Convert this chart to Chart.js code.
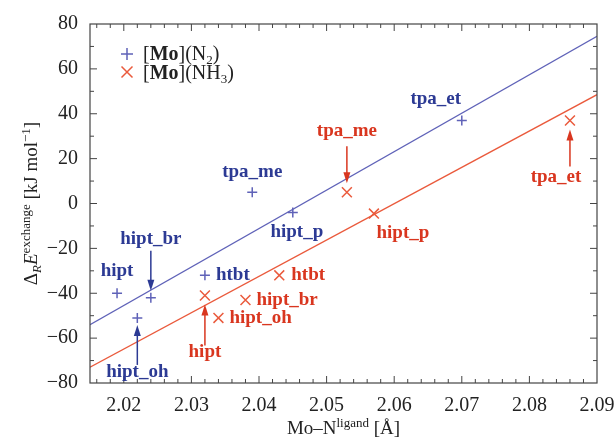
<!DOCTYPE html>
<html>
<head>
<meta charset="utf-8">
<script src="https://cdn.jsdelivr.net/npm/chart.js@4.4.0/dist/chart.umd.min.js"></script>
<style>
html, body { margin: 0; padding: 0; background: #fff; }
#wrap { width: 615px; height: 441px; }
</style>
</head>
<body>
<div id="wrap"><canvas id="chart"></canvas></div>
<script>
// ligand names, same order for both series
const ligands = ['hipt', 'hipt_br', 'hipt_oh', 'htbt', 'tpa_me', 'hipt_p', 'tpa_et'];
// Mo-N distance [A] and exchange energy [kJ/mol]
const n2Dist = [2.019, 2.024, 2.022, 2.032, 2.039, 2.045, 2.070];
const n2Energy = [-40, -42, -51, -32, 5, -4, 37];
const nh3Dist = [2.032, 2.038, 2.034, 2.043, 2.053, 2.057, 2.086];
const nh3Energy = [-41, -43, -51, -32, 5, -4.5, 37];
// fit lines, read at the two plot edges
const fitX = [2.015, 2.09];
const n2Fit = [-54, 74.5];
const nh3Fit = [-73, 48.5];
// axis ticks
const xTicks = [2.02, 2.03, 2.04, 2.05, 2.06, 2.07, 2.08, 2.09];
const yTicks = [-80, -60, -40, -20, 0, 20, 40, 60, 80];

const blue = '#5f62b8';
const blueText = '#2c3a94';
const red = '#ea5a3c';
const redText = '#d9361f';
const serif = "'Liberation Serif', 'Times New Roman', serif";

// where the names go, pixel offsets from the point (arrow = [from, to] in y)
const n2Place = {
  hipt:    { dx: 0,   dy: -22 },
  hipt_br: { dx: 0,   dy: -59, arrow: [-47, -7] },
  hipt_oh: { dx: 0,   dy: 54,  arrow: [47, 7] },
  htbt:    { dx: 11,  dy: 0,   align: 'left' },
  tpa_me:  { dx: 0,   dy: -20 },
  hipt_p:  { dx: 4,   dy: 20 },
  tpa_et:  { dx: -26, dy: -21 }
};
const nh3Place = {
  hipt:    { dx: 0,   dy: 57,  arrow: [50, 9] },
  hipt_br: { dx: 11,  dy: 0,   align: 'left' },
  hipt_oh: { dx: 11,  dy: 0,   align: 'left' },
  htbt:    { dx: 12,  dy: 0,   align: 'left' },
  tpa_me:  { dx: 0,   dy: -61, arrow: [-46, -9] },
  hipt_p:  { dx: 29,  dy: 19 },
  tpa_et:  { dx: -14, dy: 57,  arrow: [46, 9] }
};

function toPoints(xs, ys) {
  return xs.map((x, i) => ({ x: x, y: ys[i] }));
}

// draw a run of text pieces: [text, size, style, dy]
function drawRuns(ctx, runs, x, y, align) {
  let total = 0;
  runs.forEach(r => {
    ctx.font = (r[2] || '') + ' ' + r[1] + 'px ' + serif;
    r.w = ctx.measureText(r[0]).width;
    total += r.w;
  });
  let cx = align === 'center' ? x - total / 2 : x;
  ctx.textAlign = 'left';
  ctx.textBaseline = 'alphabetic';
  runs.forEach(r => {
    ctx.font = (r[2] || '') + ' ' + r[1] + 'px ' + serif;
    ctx.fillText(r[0], cx, y + (r[3] || 0));
    cx += r.w;
  });
}

function arrow(ctx, x, y0, y1, color) {
  const dir = y1 > y0 ? 1 : -1;
  ctx.strokeStyle = color;
  ctx.fillStyle = color;
  ctx.lineWidth = 1.5;
  ctx.beginPath();
  ctx.moveTo(x, y0);
  ctx.lineTo(x, y1 - dir * 8);
  ctx.stroke();
  ctx.beginPath();
  ctx.moveTo(x, y1);
  ctx.lineTo(x - 3.5, y1 - dir * 11);
  ctx.lineTo(x + 3.5, y1 - dir * 11);
  ctx.closePath();
  ctx.fill();
}

const decorations = {
  id: 'decorations',
  afterDraw(chart) {
    const ctx = chart.ctx;
    const a = chart.chartArea;
    const xs = chart.scales.x;
    const ys = chart.scales.y;
    ctx.save();

    // frame
    ctx.strokeStyle = '#444';
    ctx.lineWidth = 1.2;
    ctx.strokeRect(a.left, a.top, a.right - a.left, a.bottom - a.top);

    // inward ticks on all four sides
    ctx.lineWidth = 1;
    ctx.beginPath();
    for (let v = 2.016; v < 2.0895; v += 0.002) {
      const px = xs.getPixelForValue(v);
      const major = Math.abs(Math.round(v * 100) - v * 100) < 1e-6;
      const len = major ? 7 : 4;
      ctx.moveTo(px, a.bottom); ctx.lineTo(px, a.bottom - len);
      ctx.moveTo(px, a.top); ctx.lineTo(px, a.top + len);
    }
    for (let v = -70; v < 80; v += 10) {
      const py = ys.getPixelForValue(v);
      const len = v % 20 === 0 ? 7 : 4;
      ctx.moveTo(a.left, py); ctx.lineTo(a.left + len, py);
      ctx.moveTo(a.right, py); ctx.lineTo(a.right - len, py);
    }
    ctx.stroke();

    // point names and arrows
    const groups = [
      [n2Dist, n2Energy, n2Place, blueText],
      [nh3Dist, nh3Energy, nh3Place, redText]
    ];
    groups.forEach(g => {
      ligands.forEach((name, i) => {
        const p = g[2][name];
        const px = xs.getPixelForValue(g[0][i]);
        const py = ys.getPixelForValue(g[1][i]);
        ctx.fillStyle = g[3];
        ctx.font = 'bold 19px ' + serif;
        ctx.textAlign = p.align || 'center';
        ctx.textBaseline = 'middle';
        ctx.fillText(name, px + p.dx, py + p.dy);
        if (p.arrow) arrow(ctx, px, py + p.arrow[0], py + p.arrow[1], g[3]);
      });
    });

    // legend
    ctx.strokeStyle = blue;
    ctx.lineWidth = 1.5;
    ctx.beginPath();
    ctx.moveTo(121, 54); ctx.lineTo(133, 54);
    ctx.moveTo(127, 48); ctx.lineTo(127, 60);
    ctx.stroke();
    ctx.strokeStyle = red;
    ctx.beginPath();
    ctx.moveTo(121.5, 66.5); ctx.lineTo(132.5, 77.5);
    ctx.moveTo(132.5, 66.5); ctx.lineTo(121.5, 77.5);
    ctx.stroke();
    ctx.fillStyle = '#222';
    drawRuns(ctx, [['[', 20], ['Mo', 20, 'bold'], [']', 20], ['(N', 20], ['2', 13, '', 4], [')', 20]], 143, 60, 'left');
    drawRuns(ctx, [['[', 20], ['Mo', 20, 'bold'], [']', 20], ['(NH', 20], ['3', 13, '', 4], [')', 20]], 143, 79, 'left');

    // axis titles
    drawRuns(ctx, [['Mo\u2013N', 19], ['ligand', 13, '', -7], [' [\u00c5]', 19]], (a.left + a.right) / 2, 434, 'center');
    ctx.translate(37, (a.top + a.bottom) / 2);
    ctx.rotate(-Math.PI / 2);
    drawRuns(ctx, [['\u0394', 19], ['R', 13, 'italic', 4], ['E', 19, 'italic'], ['exchange', 13, '', -7],
      [' [kJ mol', 19], ['\u22121', 13, '', -7], [']', 19]], 0, 0, 'center');

    ctx.restore();
  }
};

new Chart(document.getElementById('chart'), {
  type: 'scatter',
  data: {
    datasets: [
      {
        label: '[Mo](N2)',
        data: toPoints(n2Dist, n2Energy),
        pointStyle: 'cross',
        pointRadius: 5,
        pointBorderWidth: 1.5,
        borderColor: blue,
        backgroundColor: blue
      },
      {
        label: '[Mo](NH3)',
        data: toPoints(nh3Dist, nh3Energy),
        pointStyle: 'crossRot',
        pointRadius: 7,
        pointBorderWidth: 1.5,
        borderColor: red,
        backgroundColor: red
      },
      {
        type: 'line',
        data: toPoints(fitX, n2Fit),
        borderColor: blue,
        borderWidth: 1.3,
        pointRadius: 0
      },
      {
        type: 'line',
        data: toPoints(fitX, nh3Fit),
        borderColor: red,
        borderWidth: 1.3,
        pointRadius: 0
      }
    ]
  },
  options: {
    responsive: true,
    maintainAspectRatio: false,
    animation: false,
    layout: { padding: { top: 22, right: 0, left: 0, bottom: 0 } },
    plugins: {
      legend: { display: false },
      tooltip: { enabled: false }
    },
    scales: {
      x: {
        type: 'linear',
        min: 2.015,
        max: 2.09,
        afterBuildTicks: s => { s.ticks = xTicks.map(v => ({ value: v })); },
        afterFit: s => { s.height = 58; s.paddingRight = 18; s.paddingLeft = 0; },
        grid: { display: false, drawTicks: false },
        border: { display: false },
        ticks: {
          padding: 11,
          color: '#222',
          font: { family: serif, size: 20 },
          callback: v => v.toFixed(2)
        }
      },
      y: {
        min: -80,
        max: 80,
        afterBuildTicks: s => { s.ticks = yTicks.map(v => ({ value: v })); },
        afterFit: s => { s.width = 90; },
        grid: { display: false, drawTicks: false },
        border: { display: false },
        ticks: {
          padding: 12,
          color: '#222',
          font: { family: serif, size: 20 },
          callback: v => v < 0 ? '\u2212' + Math.abs(v) : String(v)
        }
      }
    }
  },
  plugins: [decorations]
});
</script>
</body>
</html>
